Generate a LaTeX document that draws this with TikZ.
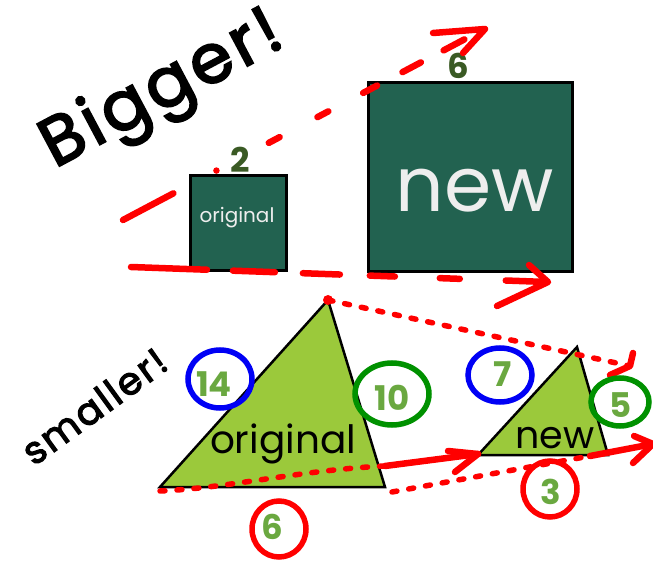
\documentclass[tikz,border=0pt]{standalone}
\usepackage{fontspec}
\setmainfont{Poppins}
\newfontfamily\handfont[FakeBold=3, LetterSpace=6]{Poppins}
\definecolor{sqfill}{RGB}{34,98,80}
\definecolor{numdark}{RGB}{58,90,36}
\definecolor{trifill}{RGB}{155,201,59}
\definecolor{numlight}{RGB}{106,168,64}
\definecolor{circblue}{RGB}{0,0,245}
\definecolor{circgreen}{RGB}{0,145,0}
\definecolor{mkred}{RGB}{255,0,0}
\definecolor{sqtext}{RGB}{238,238,238}
\tikzset{
  sqbox/.style={draw=black, line width=3pt, fill=sqfill, inner sep=0pt},
  tri/.style={draw=black, line width=2.5pt, fill=trifill, line join=miter},
  mk/.style={draw=mkred, line width=6.5pt, line cap=round, line join=round},
  dotmk/.style={mk, line width=5.5pt, dash pattern=on 5pt off 12pt},
  ring/.style={line width=5.5pt},
  num/.style={font=\bfseries\fontsize{34}{34}\selectfont, text=numlight, inner sep=0pt},
  darknum/.style={font=\bfseries\fontsize{34}{34}\selectfont, text=numdark, inner sep=0pt},
  hand/.style={font=\handfont\fontsize{#1}{#1}\selectfont, text=black, inner sep=0pt},
}
\begin{document}
\begin{tikzpicture}[x=1pt,y=-1pt]
\useasboundingbox (0,0) rectangle (653,561);

% squares
\node[sqbox, minimum width=96pt, minimum height=95pt] (sq1) at (238,223.5) {};
\node[sqbox, minimum width=204pt, minimum height=189pt] (sq2) at (470,177.5) {};
\node[text=sqtext, font=\fontsize{20}{20}\selectfont, anchor=base] (sq1t) at (237,223) {original};
\node[text=sqtext, font=\fontsize{76}{76}\selectfont, anchor=base] (sq2t) at (475,212) {new};
\node[darknum] (n2) at (240,160) {2};
\node[darknum] (n6top) at (458,66) {6};

% triangles
\coordinate (t1a) at (328,300);
\coordinate (t1b) at (160,487);
\coordinate (t1c) at (385,487);
\coordinate (t2a) at (577,347);
\coordinate (t2b) at (478,455);
\coordinate (t2c) at (608,455);
\draw[tri] (t1a) -- (t1b) -- (t1c) -- cycle;
\draw[tri] (t2a) -- (t2b) -- (t2c) -- cycle;
\node[font=\fontsize{39}{39}\selectfont, anchor=base, inner sep=0pt] (tri1t) at (283,453) {original};
\node[font=\fontsize{38}{38}\selectfont, anchor=base, inner sep=0pt] (tri2t) at (555,448) {new};

% handwriting
\node[hand=68, rotate=28] (big) at (163,92) {Bigger!};
\node[hand=38, rotate=36] (small) at (94,406) {smaller!};

% top dashed arrow
\coordinate (ba) at (123,220);
\coordinate (bb) at (467,38);
\draw[mk, dash pattern=on 57pt off 48.7pt on 0pt off 59.2pt on 12.3pt off 42.8pt on 12.3pt off 39.4pt on 15.8pt off 28.7pt on 20.8pt off 25.7pt on 23.5pt] (ba) -- (bb);
\coordinate (bh1) at (433,33);
\coordinate (bh2) at (485,29);
\coordinate (bh3) at (463,53);
\draw[mk] (bh1) -- (bh2) -- (bh3);

% bottom dashed arrow
\coordinate (ca) at (131,267);
\coordinate (cb) at (547,282);
\draw[mk, dash pattern=on 76pt off 26pt on 42pt off 28pt on 37pt off 30pt on 25pt off 45pt on 20pt off 46pt on 38pt] (ca) -- (cb);
\coordinate (ch1) at (529,265);
\coordinate (ch2) at (548,282);
\coordinate (ch3) at (497,306);
\draw[mk] (ch1) -- (ch2) -- (ch3);

% dotted arrows (triangles)
\fill[mkred] (t1a) circle (5pt);
\coordinate (da) at (630,366);
\draw[dotmk] (t1a) -- (da);
\coordinate (dh1) at (633,353);
\coordinate (dh3) at (610,375);
\draw[mk] (dh1) -- (da) -- (dh3);

\coordinate (ea) at (160,491);
\coordinate (eb) at (385,466);
\coordinate (ec) at (478,454);
\draw[dotmk] (ea) .. controls (230,488) and (300,470) .. (eb);
\draw[mk] (eb) -- (ec);
\coordinate (eh1) at (448,451);
\coordinate (eh3) at (455,472);
\draw[mk] (eh1) -- (ec) -- (eh3);

\coordinate (fa) at (392,492);
\coordinate (fb) at (590,456);
\coordinate (fc) at (653,444);
\draw[dotmk] (fa) -- (fb);
\draw[mk] (fb) -- (fc);
\coordinate (fh1) at (634,436);
\coordinate (fh3) at (633,463);
\draw[mk] (fh1) -- (fc) -- (fh3);

% circled numbers
\draw[ring, draw=circblue] (220,379) ellipse [x radius=32pt, y radius=29pt];
\node[num] (n14) at (214,384) {14};
\draw[ring, draw=circgreen] (392,394) ellipse [x radius=37pt, y radius=31pt];
\node[num] (n10) at (392,398) {10};
\draw[ring, draw=circblue] (500,375) ellipse [x radius=32pt, y radius=27pt];
\node[num] (n7) at (503,374) {7};
\draw[ring, draw=circgreen] (620,402) ellipse [x radius=29pt, y radius=24pt];
\node[num] (n5) at (621,405) {5};
\draw[ring, draw=mkred] (279,529) ellipse [x radius=27pt, y radius=28pt];
\node[num] (n6) at (272,527) {6};
\draw[ring, draw=mkred] (550,489) ellipse [x radius=27pt, y radius=28pt];
\node[num] (n3) at (551,492) {3};
\end{tikzpicture}
\end{document}
